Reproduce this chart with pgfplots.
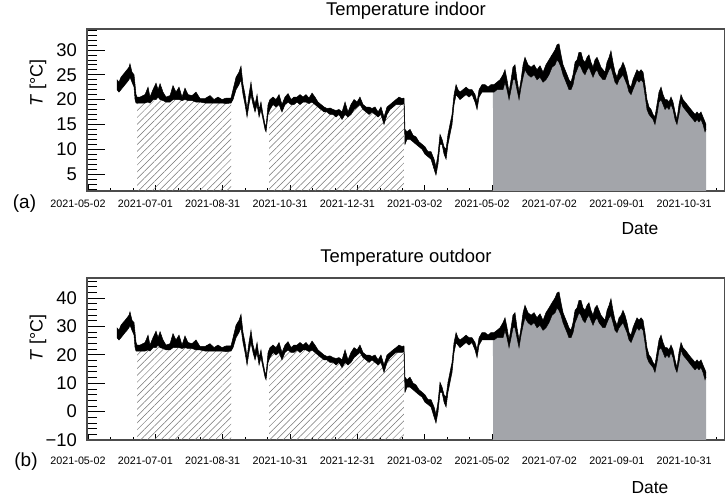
\documentclass[border=0pt]{standalone}
\usepackage{fontspec}
\setmainfont{Liberation Sans}
\usepackage{pgfplots}
\pgfplotsset{compat=1.18}
\usepackage{pgfplotstable}
\usepgfplotslibrary{fillbetween}
\usetikzlibrary{patterns.meta}
\definecolor{fillgray}{RGB}{163,165,170}

% d = days since 2021-05-02 ; lo/hi = lower and upper envelope of the noisy trace
\pgfplotstableread{
d lo hi
34.7 22.0 24.0
36.5 21.5 23.5
38.3 22.0 24.5
40.1 22.5 25.0
41.9 23.0 25.5
43.7 23.5 26.0
45.4 24.0 26.5
46.3 24.5 27.2
48.1 23.5 25.5
49.9 22.5 25.0
50.8 20.0 23.0
51.7 19.3 21.0
52.6 19.3 20.5
55.2 19.3 20.5
59.7 19.3 21.0
62.4 19.5 22.5
64.1 19.3 20.5
66.8 20.0 22.0
69.5 20.0 23.3
71.3 20.5 22.0
73.1 20.0 23.2
75.7 19.8 21.5
78.4 19.5 20.5
82.0 19.5 20.8
84.6 20.0 22.8
87.3 20.0 21.5
90.0 20.0 22.5
92.7 19.8 20.5
95.3 20.0 22.3
98.0 19.8 21.0
101.6 19.8 20.8
105.1 19.5 21.5
108.7 19.5 20.2
113.1 19.3 20.2
117.6 19.3 20.8
121.2 19.3 20.0
124.7 19.3 20.5
128.3 19.3 20.0
131.9 19.2 20.3
136.3 19.3 20.3
138.1 20.0 22.0
140.8 22.0 24.5
143.4 23.0 25.5
145.2 24.0 26.7
147.0 21.0 23.0
148.8 19.0 21.0
150.6 16.5 18.0
152.3 19.0 21.0
154.1 21.0 23.5
155.9 19.0 20.5
157.7 17.5 19.0
159.5 19.0 21.0
161.3 16.5 18.0
163.0 18.0 19.5
164.8 16.0 17.0
166.6 14.0 15.0
167.5 13.5 14.5
169.3 17.0 19.0
171.0 18.0 20.0
173.7 19.0 20.5
176.4 18.5 20.0
179.1 19.0 21.0
181.7 17.5 19.0
184.4 19.0 20.5
187.1 19.5 21.2
189.8 19.0 20.0
192.4 19.0 20.5
195.1 19.5 20.5
197.8 19.0 21.0
200.5 19.5 20.5
203.1 19.5 21.0
205.8 19.2 20.3
208.5 19.5 21.3
211.1 19.0 20.5
213.8 18.5 19.5
216.5 18.0 19.0
219.2 17.5 18.5
221.8 17.5 18.2
224.5 17.0 18.3
227.2 17.0 18.0
229.9 16.5 17.8
232.5 17.0 18.0
235.2 16.0 17.5
237.9 17.0 19.5
240.5 16.5 17.5
243.2 17.0 19.0
245.9 18.0 20.0
248.6 18.5 19.5
251.2 19.0 20.5
253.9 18.0 19.0
256.6 17.5 18.5
259.3 17.0 18.5
261.9 17.5 18.2
264.6 17.0 18.5
267.3 16.5 17.5
269.9 17.0 18.5
272.6 15.0 16.5
275.3 17.0 18.5
278.0 18.0 19.0
280.6 18.5 19.5
283.3 19.0 20.0
286.0 19.0 20.5
288.6 19.0 20.2
290.4 19.2 20.3
291.3 11.0 14.0
293.1 12.0 13.5
295.8 12.0 14.0
298.5 11.5 12.8
301.1 11.0 12.5
303.8 10.5 11.5
306.5 10.0 11.0
309.1 9.0 10.5
311.8 8.5 9.5
314.5 8.0 9.5
317.2 6.0 8.0
318.9 4.8 6.5
320.7 7.0 9.0
322.5 11.0 13.0
324.3 11.0 12.0
326.1 9.0 10.5
327.9 8.0 10.0
329.6 11.0 13.0
331.4 13.0 15.0
333.2 15.0 17.0
335.0 19.0 21.0
336.8 21.0 23.0
338.5 20.5 22.0
340.3 20.0 21.5
343.0 20.5 22.0
345.7 21.0 22.5
348.3 20.5 22.0
351.0 21.0 22.0
353.7 19.5 21.0
355.5 18.0 19.5
357.3 20.5 22.0
359.9 21.5 23.0
362.6 21.5 23.0
365.3 21.5 22.5
367.9 21.5 23.0
369.7 21.5 23.0
370.6 21.5 23.0
373.3 22.0 23.5
376.0 22.0 24.0
378.6 22.0 25.0
380.4 23.5 26.0
382.2 22.0 24.0
384.0 20.0 21.5
385.8 22.0 24.0
387.5 24.0 26.5
389.3 24.0 27.0
391.1 22.0 24.0
392.9 20.0 21.5
394.7 22.5 24.0
396.5 24.5 27.0
398.2 26.0 28.5
400.9 25.0 27.0
403.6 24.5 26.5
406.3 25.0 27.0
408.9 24.0 26.0
411.6 24.5 26.8
414.3 23.5 25.5
416.9 24.0 27.0
419.6 25.0 28.0
422.3 26.5 29.0
425.0 27.0 30.0
426.7 28.0 31.0
428.5 27.5 31.2
430.3 26.5 29.0
432.1 25.0 27.0
433.9 24.0 26.0
435.7 23.0 25.0
437.4 22.0 24.0
439.2 22.0 23.5
441.0 23.0 25.0
442.8 25.0 27.5
444.6 26.0 28.0
446.3 27.0 29.5
448.1 26.5 29.5
449.9 25.5 28.0
451.7 25.0 27.5
453.5 26.0 28.5
455.2 26.5 29.0
457.0 25.5 27.5
458.8 24.5 26.5
460.6 25.5 28.0
462.4 26.0 28.5
464.2 25.0 27.5
465.9 24.5 26.5
467.7 24.0 26.0
469.5 24.0 25.5
471.3 25.0 27.5
473.1 26.0 28.5
474.8 26.5 29.8
476.6 25.0 27.5
478.4 23.5 25.5
480.2 23.0 24.5
482.0 24.0 26.0
483.8 24.5 26.5
485.5 25.0 27.5
487.3 24.0 26.5
489.1 23.0 25.0
490.9 21.5 23.0
492.7 21.0 22.5
494.4 22.0 24.0
496.2 23.0 25.0
498.0 24.0 26.0
499.8 23.5 25.5
501.6 24.0 26.0
503.4 23.5 25.5
505.1 21.0 23.0
506.9 18.0 20.0
508.7 17.0 18.5
510.5 16.5 18.0
512.3 16.0 17.0
514.0 15.0 16.5
515.8 17.0 19.0
517.6 19.5 21.5
519.4 20.0 22.5
521.2 19.0 21.0
523.0 18.0 20.0
524.7 18.5 20.0
526.5 18.0 19.5
528.3 19.0 20.5
530.1 18.0 19.5
531.9 16.0 17.5
533.6 15.0 16.0
535.4 17.0 19.0
537.2 19.5 21.0
539.0 18.5 20.0
540.8 18.0 19.5
542.6 17.5 19.0
544.3 17.0 18.5
546.1 16.5 18.0
547.9 16.0 17.5
549.7 15.5 17.0
551.5 16.0 17.5
553.2 15.5 17.0
555.0 16.0 17.5
556.8 15.0 16.5
558.6 13.5 15.5
559.5 14.0 15.0
}\indoor

\pgfplotstableread{
d lo hi
34.7 26.0 29.5
36.5 25.2 28.6
38.3 26.0 30.4
40.1 26.9 31.3
41.9 27.8 32.1
43.7 28.6 33.0
45.4 29.5 33.9
46.3 30.4 35.1
48.1 28.6 32.1
49.9 26.9 31.3
50.8 22.5 27.8
51.7 21.3 24.3
52.6 21.3 23.4
55.2 21.3 23.4
59.7 21.3 24.3
62.4 21.7 26.9
64.1 21.3 23.4
66.8 22.5 26.0
69.5 22.5 28.3
71.3 23.4 26.0
73.1 22.5 28.1
75.7 22.2 25.2
78.4 21.7 23.4
82.0 21.7 23.9
84.6 22.5 27.4
87.3 22.5 25.2
90.0 22.5 26.9
92.7 22.2 23.4
95.3 22.5 26.6
98.0 22.2 24.3
101.6 22.2 23.9
105.1 21.7 25.2
108.7 21.7 22.9
113.1 21.3 22.9
117.6 21.3 23.9
121.2 21.3 22.5
124.7 21.3 23.4
128.3 21.3 22.5
131.9 21.1 23.1
136.3 21.3 23.1
138.1 22.5 26.0
140.8 26.0 30.4
143.4 27.8 32.1
145.2 29.5 34.2
147.0 24.3 27.8
148.8 20.8 24.3
150.6 16.4 19.0
152.3 20.8 24.3
154.1 24.3 28.6
155.9 20.8 23.4
157.7 18.2 20.8
159.5 20.8 24.3
161.3 16.4 19.0
163.0 19.0 21.7
164.8 15.5 17.3
166.6 12.1 13.8
167.5 11.2 12.9
169.3 17.3 20.8
171.0 19.0 22.5
173.7 20.8 23.4
176.4 19.9 22.5
179.1 20.8 24.3
181.7 18.2 20.8
184.4 20.8 23.4
187.1 21.7 24.6
189.8 20.8 22.5
192.4 20.8 23.4
195.1 21.7 23.4
197.8 20.8 24.3
200.5 21.7 23.4
203.1 21.7 24.3
205.8 21.1 23.1
208.5 21.7 24.8
211.1 20.8 23.4
213.8 19.9 21.7
216.5 19.0 20.8
219.2 18.2 19.9
221.8 18.2 19.4
224.5 17.3 19.6
227.2 17.3 19.0
229.9 16.4 18.7
232.5 17.3 19.0
235.2 15.5 18.2
237.9 17.3 21.7
240.5 16.4 18.2
243.2 17.3 20.8
245.9 19.0 22.5
248.6 19.9 21.7
251.2 20.8 23.4
253.9 19.0 20.8
256.6 18.2 19.9
259.3 17.3 19.9
261.9 18.2 19.4
264.6 17.3 19.9
267.3 16.4 18.2
269.9 17.3 19.9
272.6 13.8 16.4
275.3 17.3 19.9
278.0 19.0 20.8
280.6 19.9 21.7
283.3 20.8 22.5
286.0 20.8 23.4
288.6 20.8 22.9
290.4 21.1 23.1
291.3 6.8 12.1
293.1 8.6 11.2
295.8 8.6 12.1
298.5 7.7 10.0
301.1 6.8 9.4
303.8 5.9 7.7
306.5 5.1 6.8
309.1 3.3 5.9
311.8 2.5 4.2
314.5 1.6 4.2
317.2 -1.9 1.6
318.9 -4.0 -1.0
320.7 -0.2 3.3
322.5 6.8 10.3
324.3 6.8 8.6
326.1 3.3 5.9
327.9 1.6 5.1
329.6 6.8 10.3
331.4 10.3 13.8
333.2 13.8 17.3
335.0 20.8 24.3
336.8 24.3 27.8
338.5 23.4 26.0
340.3 22.5 25.2
343.0 23.4 26.0
345.7 24.3 26.9
348.3 23.4 26.0
351.0 24.3 26.0
353.7 21.7 24.3
355.5 19.0 21.7
357.3 23.4 26.0
359.9 25.2 27.8
362.6 25.2 27.8
365.3 25.2 26.9
367.9 25.2 27.8
369.7 25.2 27.8
370.6 25.2 27.8
373.3 26.0 28.6
376.0 26.0 29.5
378.6 26.0 31.3
380.4 28.6 33.0
382.2 26.0 29.5
384.0 22.5 25.2
385.8 26.0 29.5
387.5 29.5 33.9
389.3 29.5 34.8
391.1 26.0 29.5
392.9 22.5 25.2
394.7 26.9 29.5
396.5 30.4 34.8
398.2 33.0 37.4
400.9 31.3 34.8
403.6 30.4 33.9
406.3 31.3 34.8
408.9 29.5 33.0
411.6 30.4 34.4
414.3 28.6 32.1
416.9 29.5 34.8
419.6 31.3 36.5
422.3 33.9 38.3
425.0 34.8 40.0
426.7 36.5 41.7
428.5 35.6 42.1
430.3 33.9 38.3
432.1 31.3 34.8
433.9 29.5 33.0
435.7 27.8 31.3
437.4 26.0 29.5
439.2 26.0 28.6
441.0 27.8 31.3
442.8 31.3 35.6
444.6 33.0 36.5
446.3 34.8 39.1
448.1 33.9 39.1
449.9 32.1 36.5
451.7 31.3 35.6
453.5 33.0 37.4
455.2 33.9 38.3
457.0 32.1 35.6
458.8 30.4 33.9
460.6 32.1 36.5
462.4 33.0 37.4
464.2 31.3 35.6
465.9 30.4 33.9
467.7 29.5 33.0
469.5 29.5 32.1
471.3 31.3 35.6
473.1 33.0 37.4
474.8 33.9 39.7
476.6 31.3 35.6
478.4 28.6 32.1
480.2 27.8 30.4
482.0 29.5 33.0
483.8 30.4 33.9
485.5 31.3 35.6
487.3 29.5 33.9
489.1 27.8 31.3
490.9 25.2 27.8
492.7 24.3 26.9
494.4 26.0 29.5
496.2 27.8 31.3
498.0 29.5 33.0
499.8 28.6 32.1
501.6 29.5 33.0
503.4 28.6 32.1
505.1 24.3 27.8
506.9 19.0 22.5
508.7 17.3 19.9
510.5 16.4 19.0
512.3 15.5 17.3
514.0 13.8 16.4
515.8 17.3 20.8
517.6 21.7 25.2
519.4 22.5 26.9
521.2 20.8 24.3
523.0 19.0 22.5
524.7 19.9 22.5
526.5 19.0 21.7
528.3 20.8 23.4
530.1 19.0 21.7
531.9 15.5 18.2
533.6 13.8 15.5
535.4 17.3 20.8
537.2 21.7 24.3
539.0 19.9 22.5
540.8 19.0 21.7
542.6 18.2 20.8
544.3 17.3 19.9
546.1 16.4 19.0
547.9 15.5 18.2
549.7 14.7 17.3
551.5 15.5 18.2
553.2 14.7 17.3
555.0 15.5 18.2
556.8 13.8 16.4
558.6 11.2 14.7
559.5 12.1 13.8
}\outdoor

\pgfplotsset{
  rootaxis/.style={
    scale only axis, width=638bp, height=162bp,
    xmin=8, xmax=576.4,
    axis line style={black!70, line width=1.2bp},
    xtick pos=bottom, ytick pos=left, tick align=inside,
    xtick={8.9,68.9,128.9,188.9,248.9,308.9,368.9,428.9,488.9,548.9},
    xticklabels={2021-05-02,2021-07-01,2021-08-31,2021-10-31,2021-12-31,2021-03-02,2021-05-02,2021-07-02,2021-09-01,2021-10-31},
    minor xtick={28.9,48.9,88.9,108.9,148.9,168.9,208.9,228.9,268.9,288.9,328.9,348.9,388.9,408.9,448.9,468.9,508.9,528.9,568.9},
    xtick style={/pgfplots/major tick length=6bp,/pgfplots/minor tick length=3bp,black,line width=0.6bp},
    ytick style={/pgfplots/major tick length=18bp,/pgfplots/minor tick length=10bp,black,line width=0.6bp},
    yticklabel style={font=\fontsize{18.5}{21}\selectfont, anchor=east, inner sep=0pt, xshift=-10bp},
    title style={font=\fontsize{18.5}{21}\selectfont, at={(axis description cs:0.5,1)}, anchor=base},
    ylabel={\textit{T} [°C]},
    ylabel style={font=\fontsize{18}{21}\selectfont, anchor=center},
    xlabel={Date},
    xlabel style={font=\fontsize{17.5}{20}\selectfont, anchor=center},
  }
}

\begin{document}
\begin{tikzpicture}

% ---------- (a) indoor ----------
\begin{axis}[rootaxis, at={(87bp,308bp)}, anchor=south west,
  ymin=1.6, ymax=34.2,
  ytick={5,10,15,20,25,30}, yticklabels={5,10,15,20,25,30},
  minor ytick={2,3,4,6,7,8,9,11,12,13,14,16,17,18,19,21,22,23,24,26,27,28,29,31,32,33,34},
  xticklabel style={font=\fontsize{10.8}{12}\selectfont, anchor=center, inner sep=0pt, xshift=-10bp, yshift=-13bp},
  title={Temperature indoor}, title style={yshift=7.3bp},
  ylabel style={at={(axis description cs:-0.0768,0.667)}},
  xlabel style={at={(axis description cs:0.8668,-0.2346)}},
]
\addplot[draw=none, name path=base] coordinates {(8,1.6) (576.4,1.6)};
\addplot[draw=none, name path=lo] table[x=d, y=lo] {\indoor};
\addplot[draw=none, name path=hi] table[x=d, y=hi] {\indoor};
\addplot[pattern={Lines[angle=45,distance=4.8bp,line width=0.5bp]}, pattern color=black!55]
  fill between[of=lo and base, soft clip={domain=52.6:136.3}];
\addplot[pattern={Lines[angle=45,distance=4.8bp,line width=0.5bp]}, pattern color=black!55]
  fill between[of=lo and base, soft clip={domain=170.2:290.4}];
\addplot[fill=fillgray, draw=none]
  fill between[of=lo and base, soft clip={domain=369.7:559.5}];
\addplot[black] fill between[of=hi and lo];
\addplot[black, line width=0.5bp] table[x=d, y=lo] {\indoor};
\addplot[black, line width=0.5bp] table[x=d, y=hi] {\indoor};
\end{axis}

% ---------- (b) outdoor ----------
\begin{axis}[rootaxis, at={(87bp,59bp)}, anchor=south west,
  ymin=-10, ymax=47,
  ytick={-10,0,10,20,30,40}, yticklabels={−10,0,10,20,30,40},
  minor ytick={-8,-6,-4,-2,2,4,6,8,12,14,16,18,22,24,26,28,32,34,36,38,42,44,46},
  xticklabel style={font=\fontsize{10.8}{12}\selectfont, anchor=center, inner sep=0pt, xshift=-10bp, yshift=-20.7bp},
  title={Temperature outdoor}, title style={yshift=10bp},
  ylabel style={at={(axis description cs:-0.0768,0.63)}},
  xlabel style={at={(axis description cs:0.8824,-0.296)}},
]
\addplot[draw=none, name path=base] coordinates {(8,-10) (576.4,-10)};
\addplot[draw=none, name path=lo] table[x=d, y=lo] {\outdoor};
\addplot[draw=none, name path=hi] table[x=d, y=hi] {\outdoor};
\addplot[pattern={Lines[angle=45,distance=4.8bp,line width=0.5bp]}, pattern color=black!55]
  fill between[of=lo and base, soft clip={domain=52.6:136.3}];
\addplot[pattern={Lines[angle=45,distance=4.8bp,line width=0.5bp]}, pattern color=black!55]
  fill between[of=lo and base, soft clip={domain=170.2:290.4}];
\addplot[fill=fillgray, draw=none]
  fill between[of=lo and base, soft clip={domain=369.7:559.5}];
\addplot[black] fill between[of=hi and lo];
\addplot[black, line width=0.5bp] table[x=d, y=lo] {\outdoor};
\addplot[black, line width=0.5bp] table[x=d, y=hi] {\outdoor};
\end{axis}

\node[font=\fontsize{19}{22}\selectfont] at (24.5bp,295bp) {(a)};
\node[font=\fontsize{19}{22}\selectfont] at (26bp,37bp) {(b)};
\pgfresetboundingbox
\path[use as bounding box] (0bp,0bp) rectangle (725bp,499bp);
\end{tikzpicture}
\end{document}
